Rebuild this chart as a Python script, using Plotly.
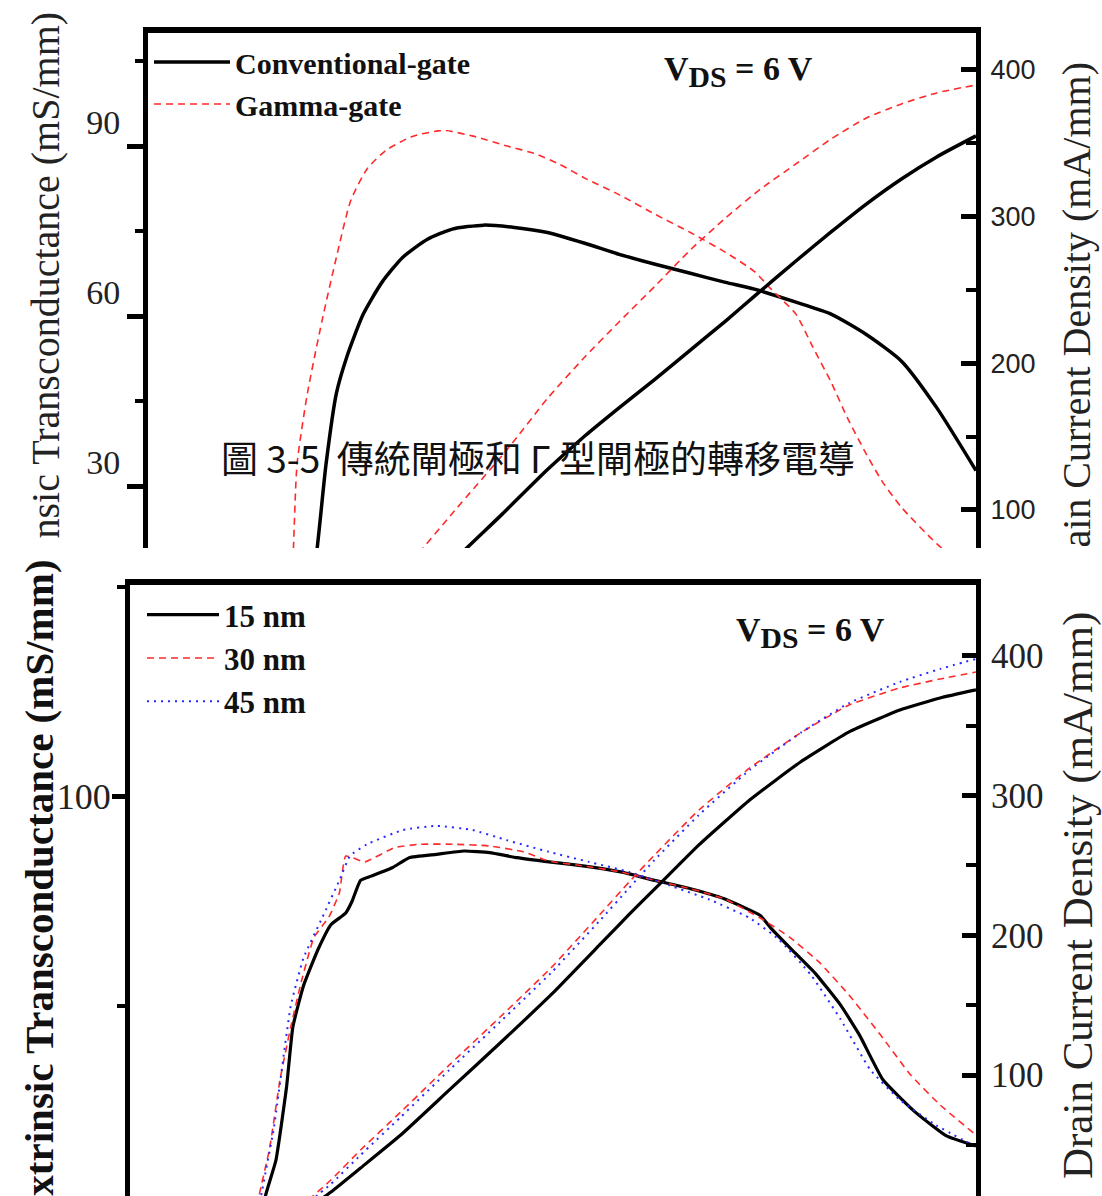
import plotly.graph_objects as go

W, H = 1102, 1196

# ---------------- Top panel: conventional gate vs gamma gate ----------------
top_conv_gm_vg = [-2.27, -2.19, -2.14, -2.09, -2.04, -1.96, -1.87, -1.77, -1.65, -1.53, -1.38, -1.23,
                  -1.07, -0.89, -0.72, -0.55, -0.38, -0.21, -0.07, 0.13, 0.30, 0.47, 0.64, 0.81, 1.00]
top_conv_gm = [0, 16.9, 33.9, 46.4, 52.8, 60.4, 66.0, 70.4, 73.6, 75.4, 76.1, 75.7,
               74.8, 72.9, 70.9, 69.2, 67.6, 66.0, 64.8, 62.5, 60.4, 56.8, 52.1, 43.9, 32.8]

top_gamma_gm_vg = [-2.33, -2.30, -2.28, -2.23, -2.16, -2.09, -2.02, -1.94, -1.85, -1.72, -1.57, -1.43,
                   -1.26, -1.13, -1.01, -0.89, -0.72, -0.55, -0.38, -0.21, -0.07, 0.01, 0.13, 0.21,
                   0.30, 0.38, 0.47, 0.55, 0.64, 0.81, 1.00]
top_gamma_gm = [0, 16.9, 33.9, 46.4, 59.1, 70.4, 80.5, 86.1, 89.3, 91.8, 92.8, 91.8,
                90.0, 88.7, 86.8, 84.4, 81.4, 78.0, 74.8, 71.3, 67.9, 64.8, 60.4, 54.7,
                48.4, 42.0, 35.7, 30.7, 26.3, 19.9, 14.3]

top_conv_id_vg = [-1.68, -1.52, -1.29, -1.07, -0.89, -0.72, -0.55, -0.38, -0.21, -0.07, 0.13, 0.30,
                  0.47, 0.64, 0.81, 1.00]
top_conv_id = [42.0, 65.9, 97.0, 127.5, 150.4, 170.1, 189.2, 208.9, 228.7, 245.7, 269.6, 289.4,
               308.4, 325.5, 340.5, 354.8]

top_gamma_id_vg = [-1.88, -1.72, -1.52, -1.26, -1.07, -0.89, -0.72, -0.55, -0.38, -0.21, -0.04, 0.13,
                   0.30, 0.47, 0.64, 0.81, 1.00]
top_gamma_id = [40.0, 65.9, 99.3, 142.0, 176.0, 204.2, 228.7, 252.6, 277.1, 298.9, 318.7, 335.7,
                352.7, 367.0, 376.6, 384.1, 389.5]

top_names = ["Conventional-gate", "Gamma-gate"]
top_left_ticks = [30, 60, 90]
top_left_minor = [45, 75, 105]
top_right_ticks = [100, 200, 300, 400]
top_right_minor = [150, 250, 350]

# ---------------- Bottom panel: gate head 15 / 30 / 45 nm ----------------
bot_15_gm_vg = [-2.38, -2.36, -2.31, -2.26, -2.23, -2.18, -2.11, -2.05, -1.98, -1.95, -1.91, -1.86,
                -1.76, -1.68, -1.55, -1.42, -1.30, -1.17, -1.02, -0.85, -0.68, -0.52, -0.35, -0.19,
                -0.02, 0.03, 0.13, 0.24, 0.36, 0.45, 0.56, 0.71, 0.86, 1.00]
bot_15_gm = [48.3, 52.3, 56.6, 65.3, 72.5, 77.4, 81.8, 84.7, 86.1, 87.5, 90.0, 90.5,
             91.5, 92.7, 93.1, 93.5, 93.3, 92.7, 92.2, 91.7, 91.0, 90.0, 89.0, 87.8,
             85.8, 84.3, 81.7, 78.9, 75.1, 71.5, 66.2, 62.4, 59.5, 58.3]

bot_30_gm_vg = [-2.41, -2.39, -2.34, -2.29, -2.24, -2.19, -2.13, -2.06, -2.01, -1.98, -1.89, -1.75,
                -1.63, -1.46, -1.30, -1.14, -1.02, -0.85, -0.68, -0.52, -0.35, -0.19, -0.02, 0.12,
                0.26, 0.40, 0.55, 0.69, 0.83, 1.00]
bot_30_gm = [48.3, 52.3, 58.0, 66.3, 72.5, 77.9, 83.2, 85.6, 88.5, 92.9, 92.2, 93.9,
             94.3, 94.3, 94.1, 93.4, 92.3, 91.7, 91.0, 90.0, 89.0, 87.8, 85.5, 83.2,
             80.2, 76.3, 71.5, 66.8, 63.2, 59.6]

bot_45_gm_vg = [-2.40, -2.38, -2.32, -2.24, -2.18, -2.09, -2.01, -1.96, -1.88, -1.71, -1.55, -1.38,
                -1.22, -1.02, -0.83, -0.64, -0.45, -0.26, -0.07, 0.07, 0.22, 0.36, 0.50, 0.64,
                0.81, 1.00]
bot_45_gm = [48.3, 52.3, 60.4, 75.0, 80.7, 85.6, 90.0, 92.9, 94.3, 96.0, 96.5, 96.0,
             94.8, 93.4, 92.2, 91.0, 89.4, 87.7, 85.5, 82.9, 78.7, 73.4, 67.4, 63.8,
             60.8, 58.2]

bot_id_vg = [-2.20, -2.05, -1.91, -1.72, -1.49, -1.25, -1.01, -0.78, -0.64, -0.52, -0.31, -0.07,
             0.17, 0.40, 0.64, 0.83, 1.00]
bot_15_id = [0.0, 16.2, 33.4, 57.0, 89.3, 122.9, 157.3, 193.1, 215.0, 233.0, 264.7, 296.9,
             324.1, 345.6, 361.3, 369.9, 375.7]
bot_30_id = [4.8, 24.8, 46.3, 73.5, 107.2, 141.5, 176.6, 214.6, 238.2, 257.5, 289.7, 319.8,
             344.9, 364.9, 377.1, 383.5, 388.5]
bot_45_id = [3.4, 22.0, 42.7, 69.9, 103.6, 138.0, 173.0, 210.3, 233.9, 253.9, 286.2, 318.4,
             344.9, 366.3, 381.4, 390.7, 397.9]

bot_names = ["15 nm", "30 nm", "45 nm"]
bot_left_ticks = [50, 100, 150]
bot_left_minor = [75, 125]
bot_right_ticks = [100, 200, 300, 400]
bot_right_minor = [50, 150, 250, 350]

caption = "圖 3-5\u00a0\u00a0傳統閘極和 Γ 型閘極的轉移電導"


def px_x(p):
    return p / W


def px_y(p):
    return 1 - p / H


SERIF = "Liberation Serif"
SANS = "Liberation Sans"
RED = "#ff2a2a"
BLUE = "#2a2aff"

fig = go.Figure()

# top panel traces
top_black = dict(color="black", width=3.5, shape="spline", smoothing=0.6)
top_red = dict(color=RED, width=1.6, dash="7px,5px", shape="spline", smoothing=0.6)
fig.add_trace(go.Scatter(x=top_conv_gm_vg, y=top_conv_gm, name=top_names[0], legendgroup="c", legend="legend",
                         mode="lines", line=top_black, xaxis="x", yaxis="y"))
fig.add_trace(go.Scatter(x=top_conv_id_vg, y=top_conv_id, name=top_names[0], legendgroup="c", showlegend=False,
                         mode="lines", line=top_black, xaxis="x", yaxis="y2"))
fig.add_trace(go.Scatter(x=top_gamma_gm_vg, y=top_gamma_gm, name=top_names[1], legendgroup="g", legend="legend",
                         mode="lines", line=top_red, xaxis="x", yaxis="y"))
fig.add_trace(go.Scatter(x=top_gamma_id_vg, y=top_gamma_id, name=top_names[1], legendgroup="g", showlegend=False,
                         mode="lines", line=top_red, xaxis="x", yaxis="y2"))

# bottom panel traces
bot_styles = [dict(color="black", width=3.2, shape="spline", smoothing=0.4),
              dict(color=RED, width=1.6, dash="7px,5px", shape="spline", smoothing=0.4),
              dict(color=BLUE, width=2.0, dash="2px,5px", shape="spline", smoothing=0.4)]
bot_gm = [(bot_15_gm_vg, bot_15_gm), (bot_30_gm_vg, bot_30_gm), (bot_45_gm_vg, bot_45_gm)]
bot_id = [bot_15_id, bot_30_id, bot_45_id]
for i in range(3):
    fig.add_trace(go.Scatter(x=bot_gm[i][0], y=bot_gm[i][1], name=bot_names[i], legendgroup="b%d" % i,
                             legend="legend2", mode="lines", line=bot_styles[i], xaxis="x2", yaxis="y3"))
    fig.add_trace(go.Scatter(x=bot_id_vg, y=bot_id[i], name=bot_names[i], legendgroup="b%d" % i,
                             legend="legend2", showlegend=False, mode="lines", line=bot_styles[i],
                             xaxis="x2", yaxis="y4"))

frame = dict(showline=True, linecolor="black", showgrid=False, zeroline=False)

fig.update_layout(
    width=W, height=H, margin=dict(l=0, r=0, t=0, b=0),
    paper_bgcolor="white", plot_bgcolor="white",
    xaxis=dict(domain=[px_x(148), px_x(976)], anchor="y", side="top", range=[-3, 1],
               linewidth=6, ticks="", showticklabels=False, **frame),
    yaxis=dict(domain=[px_y(548), px_y(33)], anchor="x", range=[19.13, 110.0], linewidth=5,
               tickmode="array", tickvals=top_left_ticks, ticks="outside", ticklen=16, tickwidth=5,
               tickcolor="black", ticklabelshift=-24,
               tickfont=dict(family=SERIF, size=34, color="#222"),
               minor=dict(tickmode="array", tickvals=top_left_minor, ticks="outside", ticklen=8,
                          tickwidth=4, tickcolor="black"), **frame),
    yaxis2=dict(overlaying="y", anchor="x", side="right", range=[74.1, 424.9], linewidth=5,
                tickmode="array", tickvals=top_right_ticks, ticks="inside", ticklen=15, tickwidth=5,
                tickcolor="black", ticklabelstandoff=4,
                tickfont=dict(family=SANS, size=27, color="#222"),
                minor=dict(tickmode="array", tickvals=top_right_minor, ticks="inside", ticklen=10,
                           tickwidth=4, tickcolor="black"), **frame),
    xaxis2=dict(domain=[px_x(130), px_x(976)], anchor="y3", side="top", range=[-3, 1],
                linewidth=6, ticks="", showticklabels=False, **frame),
    yaxis3=dict(domain=[0, px_y(585)], anchor="x2", range=[52.33, 125.24], linewidth=5,
                tickmode="array", tickvals=bot_left_ticks, ticks="outside", ticklen=13, tickwidth=5,
                tickcolor="black", ticklabelstandoff=-6,
                tickfont=dict(family=SERIF, size=36, color="#222"),
                minor=dict(tickmode="array", tickvals=bot_left_minor, ticks="outside", ticklen=8,
                           tickwidth=4, tickcolor="black"), **frame),
    yaxis4=dict(overlaying="y3", anchor="x2", side="right", range=[13.37, 450.8], linewidth=5,
                tickmode="array", tickvals=bot_right_ticks, ticks="inside", ticklen=14, tickwidth=5,
                tickcolor="black", ticklabelstandoff=3,
                tickfont=dict(family=SERIF, size=35, color="#222"),
                minor=dict(tickmode="array", tickvals=bot_right_minor, ticks="inside", ticklen=10,
                           tickwidth=4, tickcolor="black"), **frame),
    legend=dict(x=px_x(149), y=px_y(36), xanchor="left", yanchor="top", bgcolor="white",
                borderwidth=0, itemwidth=76, tracegroupgap=0,
                font=dict(family=SERIF, size=30, color="#111", weight="bold")),
    legend2=dict(x=px_x(142), y=px_y(588), xanchor="left", yanchor="top", bgcolor="rgba(0,0,0,0)",
                 borderwidth=0, itemwidth=72, tracegroupgap=0,
                 font=dict(family=SERIF, size=31, color="#111", weight="bold")),
    showlegend=True,
)

annotations = [
    dict(text="nsic Transconductance (mS/mm)", x=px_x(45), y=px_y(10), xanchor="center", yanchor="top",
         textangle=-90, font=dict(family=SERIF, size=40, color="#222")),
    dict(text="ain Current Density (mA/mm)", x=px_x(1076), y=px_y(550), xanchor="center", yanchor="bottom",
         textangle=-90, font=dict(family=SERIF, size=40, color="#222")),
    dict(text="<b>Extrinsic Transconductance (mS/mm)</b>", x=px_x(39), y=px_y(557), xanchor="center",
         yanchor="top", textangle=-90, font=dict(family=SERIF, size=41, color="#111")),
    dict(text="Drain Current Density (mA/mm)", x=px_x(1078), y=px_y(896), xanchor="center",
         yanchor="middle", textangle=-90, font=dict(family=SERIF, size=43, color="#222")),
    dict(text="<b>V<sub><span style='font-size:125%'>DS</span></sub> = 6 V</b>", x=px_x(738), y=px_y(72),
         xanchor="center", yanchor="middle", font=dict(family=SERIF, size=34, color="#111")),
    dict(text="<b>V<sub><span style='font-size:125%'>DS</span></sub> = 6 V</b>", x=px_x(810), y=px_y(632),
         xanchor="center", yanchor="middle", font=dict(family=SERIF, size=34, color="#111")),
    dict(text=caption, x=px_x(538), y=px_y(457), xanchor="center", yanchor="middle",
         font=dict(family="Noto Sans CJK TC", size=37, color="#111")),
]
for a in annotations:
    a.update(xref="paper", yref="paper", showarrow=False)
fig.update_layout(annotations=annotations)

fig.write_html("out.html")
